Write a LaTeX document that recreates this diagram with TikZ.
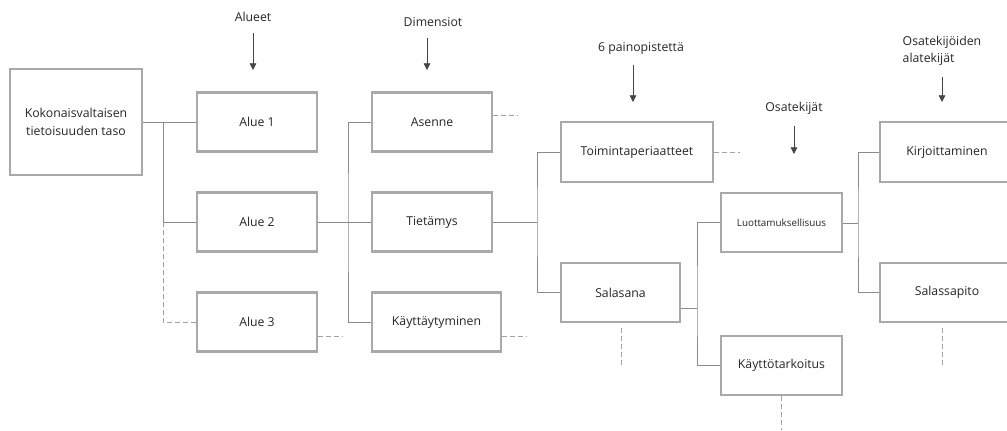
\documentclass[tikz,border=0pt]{standalone}
\usepackage{fontspec}
\setmainfont{Open Sans}
\usetikzlibrary{arrows.meta,calc}
\definecolor{ink}{HTML}{262626}
\definecolor{frame}{HTML}{A9A9A9}
\definecolor{wire}{HTML}{8A8A8A}
\definecolor{pointer}{HTML}{454545}

\begin{document}
\begin{tikzpicture}[x=0.75pt,y=-0.75pt,font=\fontsize{9.2}{13}\selectfont,text=ink,
    box/.style={draw=frame,line width=1.8pt,fill=white,align=center,
      minimum width=90pt,minimum height=44.25pt,inner sep=2pt},
    link/.style={draw=wire,line width=0.7pt},
    stub/.style={draw=wire!80,line width=0.7pt,dash pattern=on 3.5pt off 2.5pt},
    down/.style={draw=pointer,line width=0.6pt,shorten <=5pt,
      -{Triangle[length=5pt,width=5pt]}}]
  \useasboundingbox (0,0) rectangle (1007,430);

  % Level headings and their arrows.
  \node (hAlueet) at (253,17) {Alueet};
  \node (hDims) at (433,22) {Dimensiot};
  \node (hPaino) at (641,48) {6 painopistettä};
  \node (hOsat) at (794,108) {Osatekijät};
  \node[align=left] (hAlat) at (942,51) {Osatekijöiden\\alatekijät};
  \coordinate (tAlueet) at (253,70);
  \coordinate (tDims) at (427,70);
  \coordinate (tPaino) at (633,102);
  \coordinate (tOsat) at (794,154);
  \coordinate (tAlat) at (942,102);
  \draw[down] (tAlueet |- hAlueet.south) -- (tAlueet);
  \draw[down] (tDims |- hDims.south) -- (tDims);
  \draw[down] (tPaino |- hPaino.south) -- (tPaino);
  \draw[down] (tOsat |- hOsat.south) -- (tOsat);
  \draw[down] (tAlat |- hAlat.south) -- (tAlat);

  % Boxes.
  \node[box,minimum width=99pt,minimum height=79.5pt] (koko) at (76,122)
    {Kokonaisvaltaisen\\tietoisuuden taso};
  \node[box] (alue1) at (257,122) {Alue 1};
  \node[box] (alue2) at (257,222) {Alue 2};
  \node[box] (alue3) at (257,322) {Alue 3};
  \node[box] (asenne) at (432,122) {Asenne};
  \node[box] (tietamys) at (432,222) {Tietämys};
  \node[box,minimum width=96.75pt] (kaytt) at (436.5,322) {Käyttäytyminen};
  \node[box,minimum width=114pt,minimum height=45pt] (toim) at (637,152)
    {Toimintaperiaatteet};
  \node[box,minimum width=89.25pt] (salasana) at (620.5,292.5) {Salasana};
  \node[box,minimum width=90.75pt,font=\fontsize{7.4}{9}\selectfont] (luott)
    at (781.5,222.5) {Luottamuksellisuus};
  \node[box,minimum width=90.75pt] (kayttot) at (781.5,365.5) {Käyttötarkoitus};
  \node[box,minimum width=100.5pt,minimum height=45pt] (kirj) at (947,152)
    {Kirjoittaminen};
  \node[box,minimum width=100.5pt] (salass) at (947,292.5) {Salassapito};

  % Tree connectors.
  \coordinate (b1) at (163,122);
  \coordinate (b2) at (348,222);
  \coordinate (b3) at (537,222);
  \coordinate (b4) at (697,308);
  \coordinate (b5) at (858,223);
  \draw[link] (koko) -- (alue1);
  \draw[link] (b1) |- (alue2);
  \draw[stub] (b1 |- alue2) |- (alue3);
  \draw[link] (alue2) -- (tietamys);
  \draw[link] (asenne.west) -| (b2) |- (kaytt.west);
  \draw[link] (tietamys) -- (b3);
  \draw[link] (toim.west) -| (b3) |- (salasana.west);
  \draw[link] (salasana.east |- b4) -- (b4);
  \draw[link] (luott.west) -| (b4) |- (kayttot.west);
  \draw[link] (luott.east |- b5) -- (b5);
  \draw[link] (kirj.west) -| (b5) |- (salass.west);

  % Dashed continuations.
  \coordinate (d1) at (343,336);
  \coordinate (d2) at (518,115);
  \coordinate (d3) at (527,336);
  \coordinate (d4) at (740,152);
  \coordinate (d5) at (621,365);
  \coordinate (d6) at (781,430);
  \coordinate (d7) at (942,367);
  \draw[stub] (alue3.east |- d1) -- (d1);
  \draw[stub] (asenne.east |- d2) -- (d2);
  \draw[stub] (kaytt.east |- d3) -- (d3);
  \draw[stub] (toim.east |- d4) -- (d4);
  \draw[stub] (d5 |- salasana.south) ++(0,5) -- (d5);
  \draw[stub] (d6 |- kayttot.south) -- (d6);
  \draw[stub] (d7 |- salass.south) ++(0,5) -- (d7);
\end{tikzpicture}
\end{document}
